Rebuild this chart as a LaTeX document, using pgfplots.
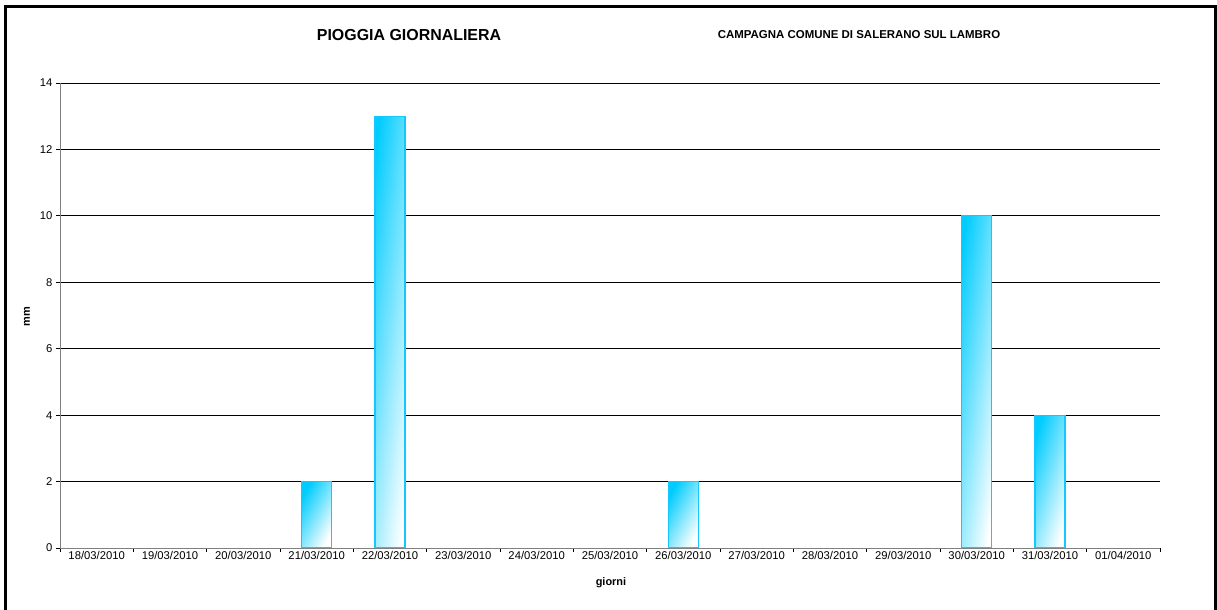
\documentclass[border=0pt]{standalone}
\usepackage{fontspec}
\setmainfont{Liberation Sans}
\usepackage{pgfplots}
\pgfplotsset{compat=1.18}
\definecolor{barcyan}{RGB}{0,204,255}
\definecolor{baredge}{RGB}{20,200,255}
\definecolor{axgray}{RGB}{128,128,128}
\pgfplotsset{cbar/.style={draw=baredge, line width=1.1bp, top color=barcyan, bottom color=white, shading angle=#1, bar shift=0pt}}
\begin{document}
\begin{tikzpicture}[x=1bp,y=1bp]
\useasboundingbox (0,0) rectangle (1217,610);
\clip (0,0) rectangle (1217,610);
\begin{axis}[
  at={(60bp,62bp)}, anchor=south west,
  scale only axis, width=1100bp, height=465bp,
  xmin=-0.5, xmax=14.5, ymin=0, ymax=14,
  axis x line*=bottom, axis y line*=left,
  axis line style={draw=axgray, line width=0.9bp},
  ytick={0,2,...,14},
  ymajorgrids, grid style={black, line width=0.8bp},
  xtick={-0.5,0.5,...,14.5}, xticklabels={},
  extra x ticks={0,1,...,14},
  extra x tick style={major tick length=0pt},
  extra x tick labels={18/03/2010,19/03/2010,20/03/2010,21/03/2010,22/03/2010,23/03/2010,24/03/2010,25/03/2010,26/03/2010,27/03/2010,28/03/2010,29/03/2010,30/03/2010,31/03/2010,01/04/2010},
  tick align=outside, major tick length=4bp,
  tick style={black, line width=0.8bp},
  ticklabel style={font=\fontsize{11.3}{13}\selectfont},
  /pgf/number format/assume math mode=true,
  ybar, bar width=30bp,
]
\addplot[cbar=62] coordinates {(3,2)};
\addplot[cbar=83] coordinates {(4,13)};
\addplot[cbar=62] coordinates {(8,2)};
\addplot[cbar=82] coordinates {(12,10)};
\addplot[cbar=73] coordinates {(13,4)};
\end{axis}
\node[font=\bfseries\fontsize{16}{18}\selectfont] at (409,575) {PIOGGIA GIORNALIERA};
\node[font=\bfseries\fontsize{11.5}{13}\selectfont] at (859,575) {CAMPAGNA COMUNE DI SALERANO SUL LAMBRO};
\node[font=\bfseries\fontsize{11}{13}\selectfont, rotate=90] at (27,293) {mm};
\node[font=\bfseries\fontsize{11}{13}\selectfont] at (611,27) {giorni};
\draw[line width=3bp] (5.5,-10) -- (5.5,603.5) -- (1215.5,603.5) -- (1215.5,-10);
\end{tikzpicture}
\end{document}
